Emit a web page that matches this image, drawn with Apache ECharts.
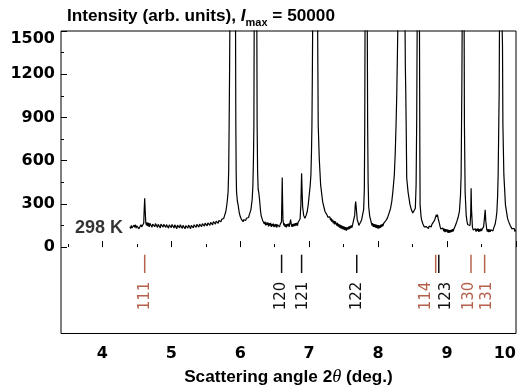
<!DOCTYPE html>
<html><head><meta charset="utf-8">
<script src="https://cdn.jsdelivr.net/npm/echarts@6/dist/echarts.min.js"></script>
<style>html,body{margin:0;padding:0;background:#fff}#c{width:521px;height:387px}</style>
</head><body><div id="c"></div>
<script>
// ---- data ----
const spectrum = [
[4.40,142],[4.41,128],[4.42,150],[4.43,133],[4.44,146],[4.45,125],[4.46,152],[4.47,138],[4.48,155],[4.49,131],
[4.50,147],[4.51,136],[4.52,158],[4.53,127],[4.54,140],[4.55,133],[4.56,155],[4.57,140],[4.58,150],[4.59,143],
[4.60,165],[4.606,250],[4.614,338],[4.622,245],[4.63,168],
[4.64,150],[4.65,172],[4.66,145],[4.67,168],[4.68,140],[4.69,165],[4.70,152],[4.71,170],[4.72,138],[4.73,160],
[4.74,148],[4.75,172],[4.76,141],[4.77,163],[4.78,150],[4.79,168],[4.80,136],[4.81,158],[4.82,145],[4.83,166],
[4.84,133],[4.85,160],[4.86,147],[4.87,165],[4.88,139],[4.89,158],[4.90,152],[4.91,170],[4.92,137],[4.93,156],
[4.94,143],[4.95,164],[4.96,131],[4.97,155],[4.98,146],[4.99,162],[5.00,135],[5.01,157],[5.02,149],[5.03,166],
[5.04,132],[5.05,154],[5.06,141],[5.07,160],[5.08,128],[5.09,152],[5.10,140],[5.11,158],[5.12,134],[5.13,155],
[5.14,145],[5.15,163],[5.16,130],[5.17,151],[5.18,138],[5.19,157],[5.20,127],[5.21,149],[5.22,137],[5.23,156],
[5.24,131],[5.25,153],[5.26,142],[5.27,160],[5.28,128],[5.29,150],[5.30,139],[5.31,158],[5.32,133],[5.33,155],
[5.34,144],[5.35,163],[5.36,136],[5.37,158],[5.38,147],[5.39,166],[5.40,139],[5.41,160],[5.42,150],[5.43,170],
[5.44,142],[5.45,163],[5.46,153],[5.47,172],[5.48,145],[5.49,166],[5.50,156],[5.51,176],[5.52,148],[5.53,168],
[5.54,158],[5.55,178],[5.56,150],[5.57,171],[5.58,162],[5.59,182],[5.60,155],[5.61,176],[5.62,166],[5.63,186],
[5.64,160],[5.65,180],[5.66,170],[5.67,190],[5.68,165],[5.69,185],[5.70,178],[5.71,196],[5.72,175],[5.73,192],
[5.74,188],[5.75,205],[5.76,198],[5.77,215],[5.78,224],[5.79,245],[5.80,275],
[5.812,320],[5.824,386],[5.832,520],[5.839,848],[5.845,1200],[5.849,1500],[5.870,8000],[5.890,40000],[5.910,8000],
[5.932,1500],[5.936,848],[5.941,520],[5.946,386],[5.958,320],[5.970,290],[5.985,240],[6.00,212],[6.01,205],
[6.02,190],[6.03,198],[6.042,176],[6.05,190],[6.06,180],[6.07,196],[6.08,185],[6.09,200],[6.10,195],[6.11,212],
[6.12,205],[6.13,222],[6.139,224],[6.155,260],[6.173,330],[6.183,420],
[6.192,620],[6.198,848],[6.202,1500],[6.222,40000],[6.241,1500],[6.245,848],[6.252,520],[6.260,400],[6.270,374],
[6.280,330],[6.295,247],[6.305,215],[6.315,205],[6.325,185],[6.333,182],
[6.34,185],[6.35,160],[6.36,176],[6.37,150],[6.38,170],[6.39,155],[6.40,172],[6.41,144],[6.42,165],[6.43,150],
[6.44,168],[6.45,140],[6.46,160],[6.47,146],[6.48,163],[6.49,138],[6.50,158],[6.51,142],[6.52,160],[6.53,135],
[6.54,156],[6.55,144],[6.56,162],[6.57,140],[6.58,158],[6.59,150],[6.598,175],[6.604,330],[6.609,483],
[6.614,320],[6.620,185],[6.632,150],[6.64,165],[6.65,140],[6.66,158],[6.67,136],[6.68,160],[6.69,145],[6.70,162],
[6.71,140],[6.72,165],[6.731,190],[6.74,158],[6.75,140],[6.76,160],[6.77,143],[6.78,162],[6.79,145],[6.80,166],
[6.81,150],[6.82,168],[6.83,148],[6.84,172],[6.85,160],[6.86,180],[6.868,195],[6.880,300],[6.886,430],[6.890,513],
[6.895,420],[6.905,280],[6.920,220],[6.938,200],[6.955,220],[6.972,247],[6.985,290],[7.001,363],[7.015,430],
[7.025,501],[7.033,650],[7.040,848],[7.046,1200],[7.050,1500],[7.086,40000],[7.123,1500],[7.131,848],[7.146,617],
[7.166,432],[7.195,316],[7.229,247],[7.245,236],[7.26,222],[7.27,208],[7.28,215],[7.291,198],[7.30,210],[7.31,186],
[7.32,200],[7.33,175],[7.34,190],[7.35,165],[7.36,182],[7.37,158],[7.38,178],[7.39,190],[7.40,150],[7.41,168],
[7.42,142],[7.43,160],[7.44,135],[7.45,155],[7.46,130],[7.47,150],[7.48,124],[7.49,146],[7.50,122],[7.51,142],
[7.52,118],[7.53,138],[7.54,114],[7.55,136],[7.56,122],[7.57,142],[7.58,125],[7.59,146],[7.60,130],[7.61,150],
[7.62,136],[7.63,155],[7.64,148],[7.648,165],[7.660,220],[7.668,290],[7.675,316],[7.685,260],[7.697,190],
[7.712,168],[7.72,150],[7.727,160],[7.735,148],[7.745,172],[7.755,168],[7.762,192],[7.776,205],[7.790,260],
[7.800,400],[7.806,848],[7.810,1500],[7.827,40000],[7.843,1500],[7.848,848],[7.855,450],[7.863,282],[7.878,215],
[7.893,185],[7.90,172],[7.91,150],[7.92,166],[7.93,140],[7.94,160],[7.95,138],[7.96,158],[7.97,134],[7.98,155],
[7.99,130],[8.00,152],[8.01,128],[8.02,150],[8.03,134],[8.04,155],[8.05,138],[8.06,160],[8.07,145],[8.08,165],
[8.095,172],[8.115,186],[8.134,201],[8.155,230],[8.18,268],[8.198,316],
[8.215,390],[8.235,501],[8.248,650],[8.260,848],[8.270,1050],[8.279,1311],[8.285,1500],[8.338,40000],[8.391,1500],
[8.395,1250],[8.401,1079],[8.408,800],[8.415,478],[8.435,380],[8.463,293],[8.485,255],[8.503,236],[8.526,224],
[8.540,270],[8.551,432],[8.560,900],[8.566,1500],[8.584,40000],[8.600,1500],[8.605,700],[8.609,293],[8.623,212],
[8.63,190],[8.64,178],[8.65,160],[8.66,150],[8.67,140],[8.68,150],[8.69,128],[8.70,142],[8.71,130],[8.72,148],
[8.73,128],[8.74,146],[8.75,136],[8.76,155],[8.77,140],[8.78,158],[8.79,150],[8.80,168],
[8.818,185],[8.832,205],[8.845,224],[8.852,210],[8.860,225],[8.872,195],[8.889,165],
[8.90,140],[8.91,125],[8.92,135],[8.93,112],[8.94,132],[8.95,110],[8.96,128],[8.97,104],[8.98,124],[8.99,108],
[9.00,122],[9.01,100],[9.02,120],[9.03,98],[9.04,118],[9.05,102],[9.06,120],[9.07,105],[9.08,124],[9.09,110],
[9.10,128],[9.11,130],[9.117,145],[9.130,155],[9.142,178],[9.160,205],[9.179,247],[9.195,360],[9.204,501],[9.210,848],
[9.214,1079],[9.219,1500],[9.233,40000],[9.248,1500],[9.252,848],[9.262,386],[9.277,224],[9.290,175],[9.301,155],
[9.318,148],[9.333,150],[9.343,230],[9.349,409],[9.355,260],[9.368,138],[9.38,118],[9.39,130],[9.40,112],[9.41,128],
[9.42,108],[9.43,126],[9.44,112],[9.45,130],[9.46,106],[9.47,124],[9.48,110],[9.49,128],[9.50,112],[9.51,126],
[9.52,120],[9.53,140],[9.535,150],[9.545,215],[9.553,259],[9.562,180],
[9.575,125],[9.585,108],[9.595,124],[9.605,104],[9.615,122],[9.625,106],[9.635,120],[9.645,110],[9.655,126],
[9.665,112],[9.675,130],[9.685,138],[9.698,160],[9.712,200],
[9.723,247],[9.733,350],[9.741,501],[9.750,848],[9.756,1079],[9.760,1500],[9.782,40000],[9.800,1500],[9.804,1403],
[9.810,848],[9.824,501],[9.847,293],[9.877,201],[9.89,180],[9.90,172],[9.916,150],[9.93,140],[9.94,128],[9.95,136],
[9.964,118],[9.975,128],[9.985,108],[9.993,120],[10.0,112]
];
const reflectionLabels = ['111','120','121','122','114','123','130','131'];
const reflectionAngles = [4.614, 6.60, 6.89, 7.69, 8.835, 8.88, 9.347, 9.545];
const reflectionPhase  = ['A','B','B','B','A','B','A','A'];
const temperatureLabel = '298 K';
const titleText = { pre: 'Intensity (arb. units), ', sym: 'I', sub: 'max', post: ' = 50000' };

// ---- layout / style ----
const W = 521, H = 387;
const G = { left: 61, right: 5, top: 31, bottom: 53.5 };
const X_MIN = 3.4, X_MAX = 10, Y_MIN = -600, Y_MAX = 1500;
const plotW = W - G.left - G.right, plotH = H - G.top - G.bottom;
const xPx = v => G.left + (v - X_MIN) / (X_MAX - X_MIN) * plotW;
const yPx = v => G.top + (Y_MAX - v) / (Y_MAX - Y_MIN) * plotH;
const phaseColor = { A: '#b5614b', B: '#111111' };
const labelShift = { '114': -10, '123': 7, '121': 2, '130': -2, '131': 2 };
const tickTopVal = -53, tickBotVal = -180, labelMidVal = -340;
const TICKFONT = 'DejaVu Sans';
const TEXTFONT = 'Liberation Sans';

const chart = echarts.init(document.getElementById('c'), null, { renderer: 'canvas' });
const hidden = { show: false };
const gridBase = { outerBoundsMode: 'none', containLabel: false };
chart.setOption({
  animation: false,
  backgroundColor: '#fff',
  title: {
    left: 62, top: -1,
    text: '{a|' + titleText.pre + '}{i|' + titleText.sym + '}{s|' + titleText.sub + '}{a|' + titleText.post + '}',
    textStyle: {
      rich: {
        a: { fontFamily: TEXTFONT, fontWeight: 'bold', fontSize: 17.2, lineHeight: 24, color: '#000' },
        i: { fontFamily: TEXTFONT, fontWeight: 'bold', fontStyle: 'italic', fontSize: 17.2, lineHeight: 24, color: '#000' },
        s: { fontFamily: TEXTFONT, fontWeight: 'bold', fontSize: 11, lineHeight: 11, verticalAlign: 'bottom', color: '#000' }
      }
    }
  },
  grid: [
    Object.assign({ left: G.left, right: G.right, top: G.top, bottom: G.bottom, show: true, borderColor: '#000', borderWidth: 1, backgroundColor: 'transparent' }, gridBase),
    Object.assign({ left: G.left, right: G.right, top: G.top, bottom: H - yPx(0) }, gridBase),
    Object.assign({ left: xPx(4), right: G.right, top: G.top, bottom: G.bottom }, gridBase),
    Object.assign({ left: xPx(3.5), right: G.right, top: G.top, bottom: G.bottom }, gridBase)
  ],
  xAxis: [
    { gridIndex: 0, type: 'value', min: X_MIN, max: X_MAX, axisLine: hidden, axisTick: hidden, axisLabel: hidden, splitLine: hidden,
      name: '{t|Scattering angle 2}{i|θ}{t| (deg.)}', nameLocation: 'middle', nameGap: 34,
      nameTextStyle: { rich: {
        t: { fontFamily: TEXTFONT, fontWeight: 'bold', fontSize: 17.2, color: '#000' },
        i: { fontFamily: 'Liberation Serif', fontStyle: 'italic', fontSize: 18.5, color: '#000' } } } },
    { gridIndex: 1, type: 'value', min: X_MIN, max: X_MAX, show: false },
    { gridIndex: 2, type: 'value', min: 4, max: 10, interval: 1, axisLine: hidden, splitLine: hidden,
      axisTick: { show: true, inside: true, length: 6, lineStyle: { color: '#000', width: 1 } },
      axisLabel: { margin: 12, fontFamily: TICKFONT, fontWeight: 'bold', fontSize: 16, color: '#000', alignMaxLabel: 'right',
        formatter: v => String(v) } },
    { gridIndex: 3, type: 'value', min: 3.5, max: 10, interval: 0.5, axisLine: hidden, splitLine: hidden, axisLabel: hidden,
      axisTick: { show: true, inside: true, length: 3, lineStyle: { color: '#000', width: 1 } } }
  ],
  yAxis: [
    { gridIndex: 0, type: 'value', min: Y_MIN, max: Y_MAX, show: false },
    { gridIndex: 1, type: 'value', min: 0, max: 1500, interval: 300, axisLine: hidden, splitLine: hidden,
      axisTick: { show: true, inside: true, length: 6, lineStyle: { color: '#000', width: 1 } },
      minorTick: { show: true, splitNumber: 2, length: 3, lineStyle: { color: '#000', width: 1 } },
      axisLabel: { margin: 6, fontFamily: TICKFONT, fontWeight: 'bold', fontSize: 16, color: '#000',
        verticalAlignMaxLabel: 'top', formatter: v => String(v) } },
    { gridIndex: 2, type: 'value', min: Y_MIN, max: Y_MAX, show: false },
    { gridIndex: 3, type: 'value', min: Y_MIN, max: Y_MAX, show: false }
  ],
  series: [
    { type: 'line', xAxisIndex: 0, yAxisIndex: 0, data: spectrum, showSymbol: false, symbol: 'none', clip: true,
      lineStyle: { color: '#000', width: 1.2 }, silent: true, z: 3 },
    { type: 'scatter', xAxisIndex: 0, yAxisIndex: 0, data: [spectrum[0]], symbolSize: 0, silent: true,
      label: { show: true, position: 'left', distance: 7, offset: [0, 1.5], formatter: temperatureLabel,
        fontFamily: TEXTFONT, fontWeight: 'bold', fontSize: 18, color: '#000' } },
    { type: 'custom', xAxisIndex: 0, yAxisIndex: 0, silent: true,
      data: reflectionAngles.map((a, i) => ({ value: [a, tickTopVal], name: reflectionLabels[i] })),
      renderItem: function (params, api) {
        const i = params.dataIndex;
        const a = api.value(0);
        const lab = reflectionLabels[i];
        const col = phaseColor[reflectionPhase[i]];
        const p1 = api.coord([a, tickTopVal]);
        const p2 = api.coord([a, tickBotVal]);
        const pl = api.coord([a, labelMidVal]);
        return { type: 'group', children: [
          { type: 'line', shape: { x1: p1[0], y1: p1[1], x2: p2[0], y2: p2[1] }, style: { stroke: col, lineWidth: 1.5 } },
          { type: 'text', x: pl[0] + (labelShift[lab] || 0), y: pl[1], rotation: Math.PI / 2,
            style: { text: lab, fill: col, font: '15px "DejaVu Sans"', align: 'center', verticalAlign: 'middle',
                     textAlign: 'center', textVerticalAlign: 'middle' } }
        ] };
      } }
  ]
});
</script>
</body></html>
